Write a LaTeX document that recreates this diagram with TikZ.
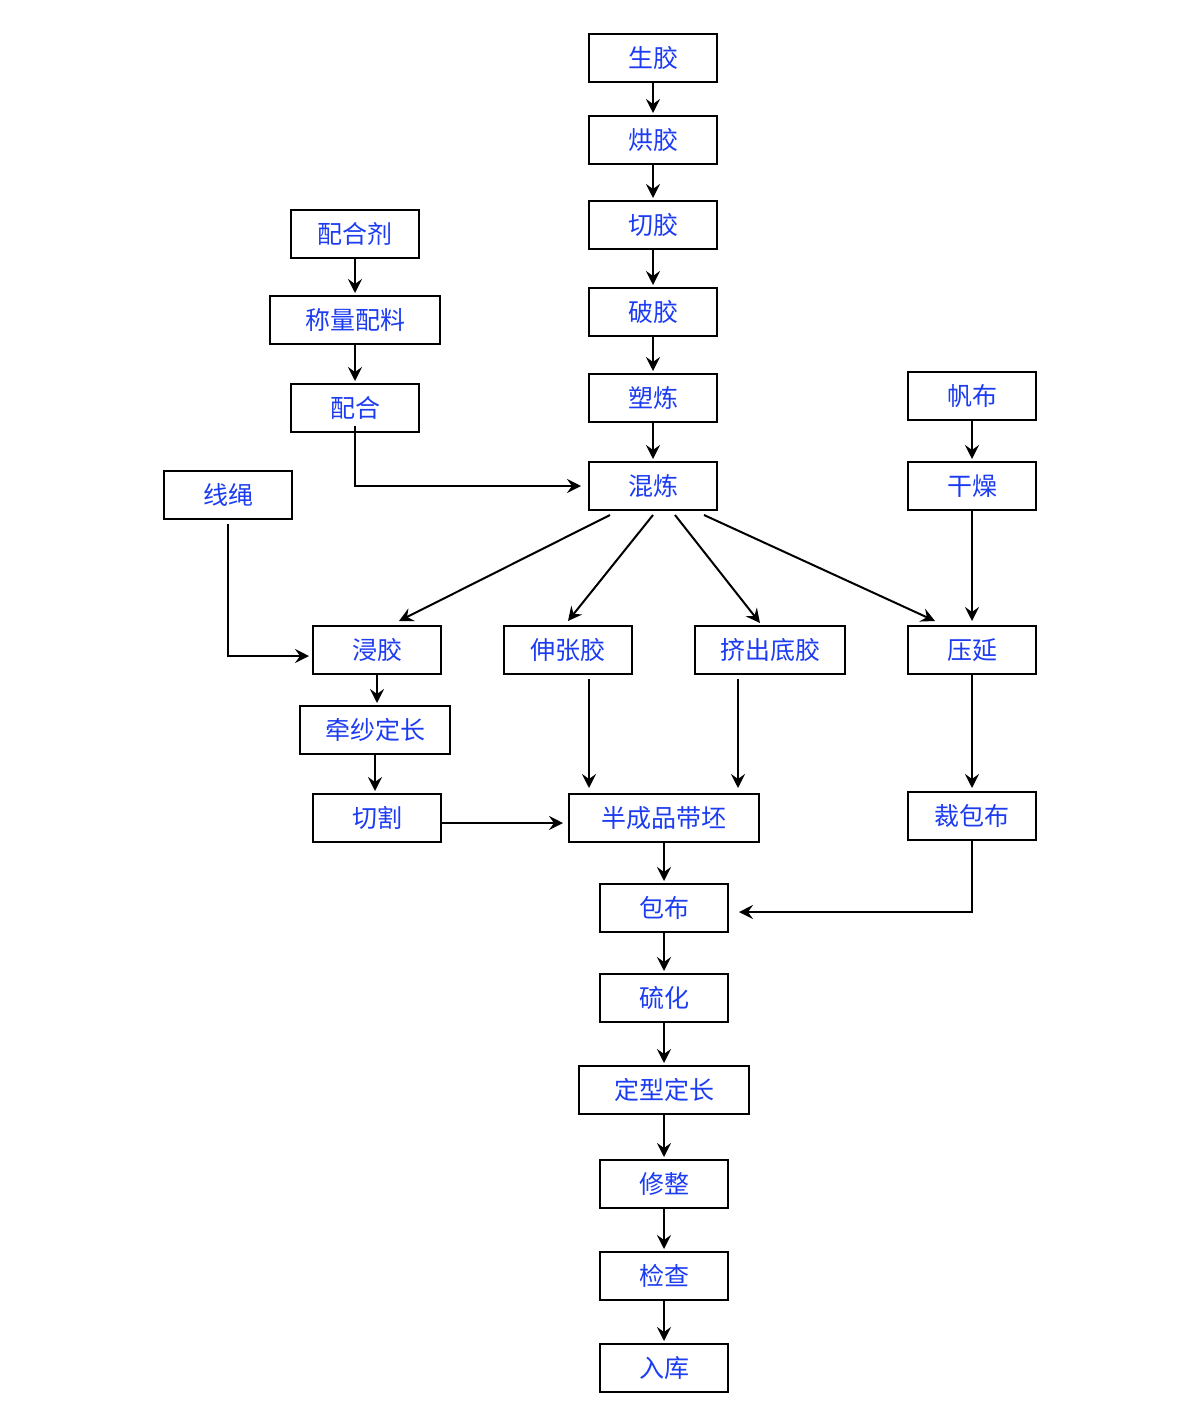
\documentclass[tikz,border=0pt]{standalone}
\usepackage{fontspec}
\usepackage{tikz}
\usetikzlibrary{arrows.meta, positioning, calc}
\usepackage{xcolor}
\newfontfamily\cjk{Noto Sans CJK SC}
\definecolor{StepBlue}{HTML}{1C3CF2}
\definecolor{InkBlack}{HTML}{000000}

\begin{document}
\begin{tikzpicture}[x=1pt, y=-1pt,
  box/.style={draw=InkBlack, line width=2pt, minimum width=128pt, minimum height=48pt,
    inner sep=0pt, text=StepBlue, font={\cjk\fontsize{25pt}{25pt}\selectfont}},
  wide/.style={box, minimum width=170pt},
  mid/.style={box, minimum width=150pt},
  flow/.style={draw=InkBlack, line width=2pt, -{Stealth[length=14pt, width=14pt, inset=5pt]}}]
  \useasboundingbox (0,0) rectangle (1200,1419);

  % main rubber line
  \node[box] (shengjiao) at (653,58) {生胶};
  \node[box] (hongjiao) at (653,140) {烘胶};
  \node[box] (qiejiao) at (653,225) {切胶};
  \node[box] (pojiao) at (653,312) {破胶};
  \node[box] (sulian) at (653,398) {塑炼};
  \node[box] (hunlian) at (653,486) {混炼};

  % compounding agents
  \node[box] (peiheji) at (355,234) {配合剂};
  \node[wide] (chengliang) at (355,320) {称量配料};
  \node[box] (peihe) at (355,408) {配合};

  % cord and canvas
  \node[box] (xiansheng) at (228,495) {线绳};
  \node[box] (fanbu) at (972,396) {帆布};
  \node[box] (ganzao) at (972,486) {干燥};

  % middle row
  \node[box] (jinjiao) at (377,650) {浸胶};
  \node[box] (shenzhang) at (568,650) {伸张胶};
  \node[mid] (jichu) at (770,650) {挤出底胶};
  \node[box] (yayan) at (972,650) {压延};
  \node[mid] (qiansha) at (375,730) {牵纱定长};
  \node[box] (qiege) at (377,818) {切割};
  \node[box, minimum width=190pt] (banchengpin) at (664,818) {半成品带坯};
  \node[box] (caibaobu) at (972,816) {裁包布};

  % finishing line
  \node[box] (baobu) at (664,908) {包布};
  \node[box] (liuhua) at (664,998) {硫化};
  \node[wide] (dingxing) at (664,1090) {定型定长};
  \node[box] (xiuzheng) at (664,1184) {修整};
  \node[box] (jiancha) at (664,1276) {检查};
  \node[box] (ruku) at (664,1368) {入库};

  % vertical steps
  \foreach \a/\b in {shengjiao/hongjiao, hongjiao/qiejiao, qiejiao/pojiao, pojiao/sulian,
    sulian/hunlian, peiheji/chengliang, chengliang/peihe, fanbu/ganzao,
    jinjiao/qiansha, qiansha/qiege, banchengpin/baobu, baobu/liuhua, liuhua/dingxing,
    dingxing/xiuzheng, xiuzheng/jiancha, jiancha/ruku}
    \draw[flow, shorten >=2pt] (\a.south) -- (\a.south |- \b.north);

  % side feeds
  \draw[flow] ($(peihe.south)+(0,-7)$) |- ($(hunlian.west)+(-7,0)$);
  \draw[flow] ($(xiansheng.south)+(0,4)$) |- ($(jinjiao.west)+(-3,6)$);
  \draw[flow] (ganzao.south) -- ($(yayan.north)+(0,-4)$);
  \draw[flow] (yayan.south) -- ($(caibaobu.north)+(0,-3)$);
  \draw[flow] (caibaobu.south) |- ($(baobu.east)+(10,4)$);

  % from mixing
  \draw[flow] ($(hunlian.south)+(-43,4)$) -- ($(jinjiao.north)+(22,-4)$);
  \draw[flow] ($(hunlian.south)+(0,4)$) -- ($(shenzhang.north)+(0,-4)$);
  \draw[flow] ($(hunlian.south)+(22,4)$) -- ($(jichu.north)+(-10,-2)$);
  \draw[flow] ($(hunlian.south)+(51,4)$) -- ($(yayan.north)+(-37,-4)$);

  % into the belt blank
  \draw[flow] ($(shenzhang.south)+(21,4)$) -- ($(banchengpin.north)+(-75,-5)$);
  \draw[flow] ($(jichu.south)+(-32,4)$) -- ($(banchengpin.north)+(74,-5)$);
  \coordinate (qiegeout) at ($(qiege.east)+(0,5)$);
  \draw[flow] (qiegeout) -- ($(banchengpin.west |- qiegeout)+(-5,0)$);
\end{tikzpicture}
\end{document}
